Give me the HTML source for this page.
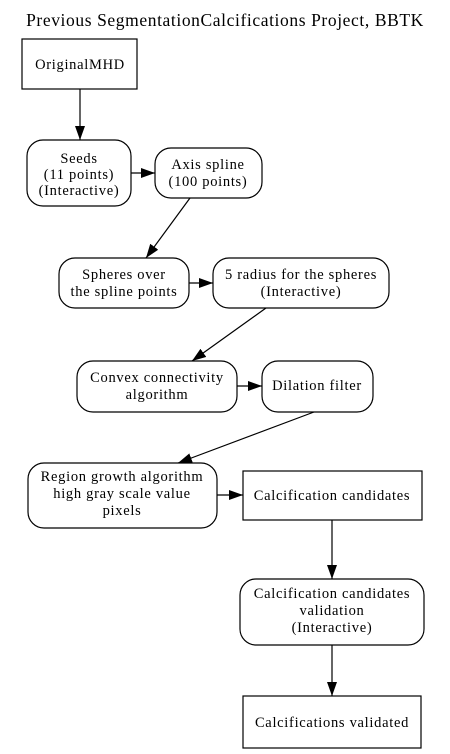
<!DOCTYPE html>
<html><head><meta charset="utf-8"><style>
html,body{margin:0;padding:0;background:#fff;width:450px;height:754px;overflow:hidden}
text{font-family:"Liberation Serif",serif;font-size:14.5px;letter-spacing:0.7px;fill:#000}
</style></head><body>
<svg width="450" height="754" viewBox="0 0 450 754" xmlns="http://www.w3.org/2000/svg">
<defs><marker id="a" markerWidth="14" markerHeight="10" refX="14" refY="5" orient="auto" markerUnits="userSpaceOnUse"><path d="M0,0 L14,5 L0,10 Z" fill="#000"/></marker></defs>
<g fill="none" stroke="#000" stroke-width="1.2">
<rect x="22" y="39" width="115" height="50"/>
<rect x="27" y="140" width="104" height="66" rx="16"/>
<rect x="155" y="148" width="107" height="50" rx="16"/>
<rect x="59" y="258" width="130" height="50" rx="16"/>
<rect x="213" y="258" width="176" height="50" rx="16"/>
<rect x="77" y="361" width="160" height="51" rx="16"/>
<rect x="262" y="361" width="111" height="51" rx="16"/>
<rect x="28" y="463" width="189" height="65" rx="16"/>
<rect x="243" y="471" width="179" height="49"/>
<rect x="240" y="579" width="184" height="66" rx="16"/>
<rect x="243" y="696" width="178" height="52"/>
<g marker-end="url(#a)">
<line x1="80" y1="89" x2="80" y2="140"/>
<line x1="131" y1="173" x2="155" y2="173"/>
<line x1="190" y1="198" x2="146" y2="258"/>
<line x1="189" y1="283" x2="213" y2="283"/>
<line x1="266" y1="308" x2="192" y2="361"/>
<line x1="237" y1="386" x2="262" y2="386"/>
<line x1="314" y1="412" x2="178" y2="463"/>
<line x1="217" y1="495" x2="243" y2="495"/>
<line x1="332" y1="520" x2="332" y2="579"/>
<line x1="332" y1="645" x2="332" y2="696"/>
</g></g>
<g text-anchor="middle">
<text x="225" y="26" style="font-size:17.5px;letter-spacing:0.6px">Previous SegmentationCalcifications Project, BBTK</text>
<text x="80" y="69">OriginalMHD</text>
<text x="79" y="163">Seeds</text><text x="79" y="179">(11 points)</text><text x="79" y="195">(Interactive)</text>
<text x="208" y="169">Axis spline</text><text x="208" y="186">(100 points)</text>
<text x="124" y="279">Spheres over</text><text x="124" y="296">the spline points</text>
<text x="301" y="279">5 radius for the spheres</text><text x="301" y="296">(Interactive)</text>
<text x="157" y="382">Convex connectivity</text><text x="157" y="399">algorithm</text>
<text x="317" y="390">Dilation filter</text>
<text x="122" y="481">Region growth algorithm</text><text x="122" y="498">high gray scale value</text><text x="122" y="515">pixels</text>
<text x="332" y="500">Calcification candidates</text>
<text x="332" y="598">Calcification candidates</text><text x="332" y="615">validation</text><text x="332" y="632">(Interactive)</text>
<text x="332" y="727">Calcifications validated</text>
</g>
</svg>
</body></html>
